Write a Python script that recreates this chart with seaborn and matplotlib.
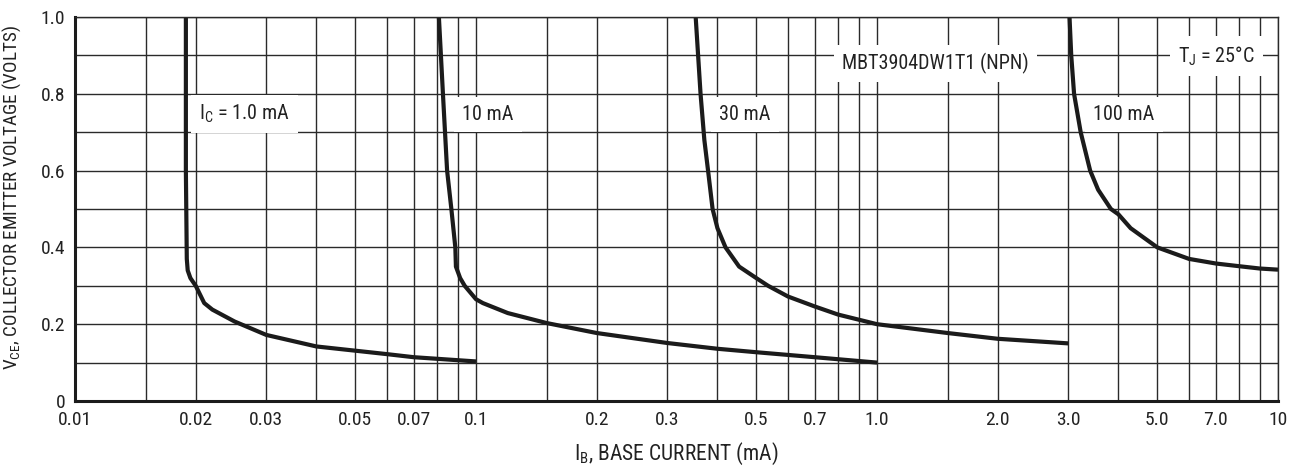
import numpy as np
import pandas as pd
import matplotlib
matplotlib.use("Agg")
import matplotlib.pyplot as plt
import seaborn as sns

# Collector current curves: base current (mA) vs collector-emitter voltage (V)
ib_1ma = [0.0189, 0.0189, 0.0190, 0.0191, 0.0194, 0.0200, 0.0210, 0.0220, 0.0250,
          0.030, 0.040, 0.050, 0.060, 0.070, 0.100]
vce_1ma = [1.0, 0.6, 0.37, 0.34, 0.32, 0.30, 0.255, 0.238, 0.207,
           0.172, 0.142, 0.131, 0.122, 0.114, 0.103]

ib_10ma = [0.0808, 0.0827, 0.0847, 0.0868, 0.0888, 0.0891, 0.0913, 0.0937, 0.100,
           0.104, 0.120, 0.150, 0.200, 0.300, 0.400, 0.500, 0.700, 1.000]
vce_10ma = [1.0, 0.8, 0.6, 0.5, 0.4, 0.35, 0.32, 0.30, 0.265,
            0.255, 0.229, 0.203, 0.177, 0.151, 0.136, 0.127, 0.114, 0.100]

ib_30ma = [0.353, 0.363, 0.371, 0.379, 0.389, 0.400, 0.419, 0.453, 0.500,
           0.535, 0.600, 0.700, 0.800, 1.000, 1.500, 2.000, 3.000]
vce_30ma = [1.0, 0.8, 0.68, 0.6, 0.5, 0.45, 0.40, 0.35, 0.32,
            0.30, 0.272, 0.246, 0.225, 0.200, 0.177, 0.162, 0.150]

ib_100ma = [3.02, 3.05, 3.10, 3.22, 3.40, 3.56, 3.83, 4.00, 4.29,
            5.00, 6.00, 7.00, 8.00, 9.00, 10.0]
vce_100ma = [1.0, 0.9, 0.8, 0.7, 0.6, 0.55, 0.5, 0.486, 0.45,
             0.40, 0.37, 0.358, 0.351, 0.345, 0.342]

curve_names = ["1.0 mA", "10 mA", "30 mA", "100 mA"]

x_major = [0.01, 0.02, 0.03, 0.05, 0.07, 0.1, 0.2, 0.3, 0.5, 0.7,
           1.0, 2.0, 3.0, 5.0, 7.0, 10]
x_major_labels = ["0.01", "0.02", "0.03", "0.05", "0.07", "0.1", "0.2", "0.3",
                  "0.5", "0.7", "1.0", "2.0", "3.0", "5.0", "7.0", "10"]
x_minor = [0.015, 0.04, 0.06, 0.08, 0.09, 0.15, 0.4, 0.6, 0.8, 0.9,
           1.5, 4, 6, 8, 9]
y_major = [0, 0.2, 0.4, 0.6, 0.8, 1.0]
y_major_labels = ["0", "0.2", "0.4", "0.6", "0.8", "1.0"]
y_minor = [0.1, 0.3, 0.5, 0.7, 0.9]

frames = []
for name, ib, vce in zip(curve_names,
                         [ib_1ma, ib_10ma, ib_30ma, ib_100ma],
                         [vce_1ma, vce_10ma, vce_30ma, vce_100ma]):
    frames.append(pd.DataFrame({"ib": ib, "vce": vce, "ic": name}))
df = pd.concat(frames, ignore_index=True)

sns.set_theme(style="white")
plt.rcParams["font.family"] = ["Roboto Condensed", "Roboto", "DejaVu Sans"]
plt.rcParams["mathtext.default"] = "regular"

ink = "#1b1b1b"
txt = "#222222"
fs_tick = 14
fs_note = 14.5

fig, ax = plt.subplots(figsize=(13, 4.69), dpi=100)
fig.subplots_adjust(left=0.0577, right=0.9831, top=0.9638, bottom=0.145)

sns.lineplot(data=df, x="ib", y="vce", units="ic", estimator=None, sort=False,
             color=ink, linewidth=3.0, legend=False, ax=ax)
for ln in ax.lines:
    ln.set_solid_joinstyle("round")
    ln.set_solid_capstyle("butt")

ax.set_xscale("log")
ax.set_xlim(0.01, 10)
ax.set_ylim(0, 1.0)
ax.set_xticks(x_major, x_major_labels)
ax.set_xticks(x_minor, minor=True)
ax.xaxis.set_minor_formatter(matplotlib.ticker.NullFormatter())
ax.set_yticks(y_major, y_major_labels)
ax.set_yticks(y_minor, minor=True)
ax.set_axisbelow(True)
ax.grid(which="both", color="#2a2a2a", linewidth=1.0)
ax.tick_params(which="both", length=0, labelsize=fs_tick, colors=txt)
ax.tick_params(axis="x", pad=7)
ax.tick_params(axis="y", pad=7)

for side in ["top", "right"]:
    ax.spines[side].set_linewidth(1.0)
    ax.spines[side].set_color("#2a2a2a")
for side in ["bottom", "left"]:
    ax.spines[side].set_linewidth(2.2)
    ax.spines[side].set_color(ink)

ax.set_xlabel("I$_B$, BASE CURRENT (mA)", fontsize=15.5, color=txt, labelpad=9)
ax.set_ylabel("V$_{CE}$, COLLECTOR EMITTER VOLTAGE (VOLTS)", fontsize=13.8,
              color=txt)
ax.yaxis.set_label_coords(-0.043, 0.53)

box = dict(boxstyle="square,pad=0.4", facecolor="white", edgecolor="none")
labels = [
    (0.0204, 0.732, "I$_C$ = 1.0 mA"),
    (0.0925, 0.732, "10 mA"),
    (0.404, 0.732, "30 mA"),
    (3.46, 0.732, "100 mA"),
    (0.82, 0.864, "MBT3904DW1T1 (NPN)"),
    (5.63, 0.882, "T$_J$ = 25°C"),
]
for x, y, s in labels:
    ax.text(x, y, s, fontsize=fs_note, color=txt, ha="left", va="baseline",
            bbox=box, zorder=1.5)

fig.savefig("out.png", dpi=100)
